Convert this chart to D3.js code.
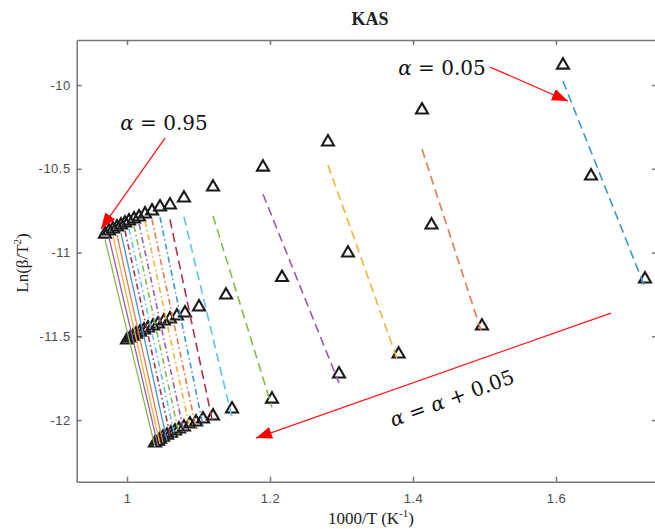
<!DOCTYPE html>
<html lang="en">
<head>
  <meta charset="utf-8">
  <title>KAS</title>
  <script src="https://cdnjs.cloudflare.com/ajax/libs/d3/7.8.5/d3.min.js"></script>
  <style>
    body { margin: 0; background: #fff; }
    .tick text { font-family: "Liberation Sans", Arial, sans-serif; font-size: 13px; fill: #4d4d4d; letter-spacing: 0.5px; }
    .axis path, .axis line { stroke: #777; stroke-width: 1.5; }
    .ttl { font-family: "Liberation Serif", "Times New Roman", serif; fill: #222; }
    .note { font-family: "DejaVu Serif", serif; font-size: 20px; fill: #111; }
  </style>
</head>
<body>
<svg id="chart"></svg>
<script>
// conversion levels
var alphas = [0.05, 0.10, 0.15, 0.20, 0.25, 0.30, 0.35, 0.40, 0.45, 0.50,
              0.55, 0.60, 0.65, 0.70, 0.75, 0.80, 0.85, 0.90, 0.95];

// 1000/T and ln(beta/T^2) for the three heating rates (top, middle, bottom rows)
var xTop = [1.6098, 1.4126, 1.2811, 1.1902, 1.1203, 1.0797, 1.0601, 1.0462, 1.0350, 1.0252,
            1.0168, 1.0098, 1.0028, 0.9972, 0.9916, 0.9860, 0.9804, 0.9748, 0.9692];
var yTop = [-9.881, -10.149, -10.340, -10.490, -10.609, -10.675, -10.716, -10.728, -10.752, -10.770,
            -10.788, -10.800, -10.812, -10.824, -10.836, -10.848, -10.860, -10.872, -10.890];
var xMid = [1.6490, 1.4259, 1.3091, 1.2168, 1.1385, 1.1007, 1.0811, 1.0699, 1.0601, 1.0517,
            1.0434, 1.0364, 1.0294, 1.0238, 1.0182, 1.0126, 1.0084, 1.0042, 1.0000];
var yMid = [-10.543, -10.836, -11.003, -11.149, -11.254, -11.325, -11.361, -11.379, -11.397, -11.409,
            -11.427, -11.439, -11.451, -11.463, -11.475, -11.487, -11.499, -11.510, -11.522];
var xBot = [1.7245, 1.4965, 1.3799, 1.2965, 1.2028, 1.1469, 1.1203, 1.1063, 1.0965, 1.0881,
            1.0797, 1.0727, 1.0671, 1.0615, 1.0559, 1.0503, 1.0462, 1.0434, 1.0392];
var yBot = [-11.158, -11.439, -11.606, -11.725, -11.875, -11.934, -11.976, -11.994, -12.012, -12.024,
            -12.042, -12.054, -12.066, -12.078, -12.090, -12.102, -12.114, -12.126, -12.137];

var xTicks = [1, 1.2, 1.4, 1.6];
var yTicks = [-12, -11.5, -11, -10.5, -10];

var palette = ["#3d97d6", "#e27a52", "#efb53a", "#9a5bb0", "#86bb4a", "#5cc4ef", "#b0304a"];

var w = 655, h = 529;
var padL = 76.7, padR = 657, padT = 40, padB = 481.7;

var svg = d3.select("#chart").attr("width", w).attr("height", h);

var xScale = d3.scaleLinear().domain([0.92965, 1.7413]).range([padL, padR]);
var yScale = d3.scaleLinear().domain([-12.368, -9.731]).range([padB, padT]);

// axes (ticks pointing inward like matlab)
svg.append("g").attr("class", "axis")
  .attr("transform", "translate(0," + padB + ")")
  .call(d3.axisBottom(xScale).tickValues(xTicks).tickSizeInner(-5).tickSizeOuter(0).tickPadding(12)
    .tickFormat(function(d) { return String(d); }));
svg.append("g").attr("class", "axis")
  .attr("transform", "translate(0," + padT + ")")
  .call(d3.axisTop(xScale).tickValues(xTicks).tickSizeInner(-5).tickSizeOuter(0).tickFormat(""));
svg.append("g").attr("class", "axis")
  .attr("transform", "translate(" + padL + ",0)")
  .call(d3.axisLeft(yScale).tickValues(yTicks).tickSizeInner(-5).tickSizeOuter(0).tickPadding(6)
    .tickFormat(function(d) { return String(d); }));
svg.append("g").attr("class", "axis")
  .attr("transform", "translate(" + padR + ",0)")
  .call(d3.axisRight(yScale).tickValues(yTicks).tickSizeInner(-5).tickSizeOuter(0).tickFormat(""));

// markers
var pts = [];
alphas.forEach(function(a, i) {
  pts.push([xTop[i], yTop[i]], [xMid[i], yMid[i]], [xBot[i], yBot[i]]);
});
svg.append("g").selectAll("path").data(pts).enter().append("path")
  .attr("d", d3.symbol().type(d3.symbolTriangle).size(62))
  .attr("transform", function(d) { return "translate(" + xScale(d[0]) + "," + yScale(d[1]) + ")"; })
  .attr("fill", "none")
  .attr("stroke", "#1a1a1a")
  .attr("stroke-width", 2.1);

// least squares line per alpha, drawn over the x range of its points
function fit(i) {
  var xs = [xTop[i], xMid[i], xBot[i]], ys = [yTop[i], yMid[i], yBot[i]];
  var mx = d3.mean(xs), my = d3.mean(ys), sxy = 0, sxx = 0;
  for (var k = 0; k < 3; k++) { sxy += (xs[k] - mx) * (ys[k] - my); sxx += (xs[k] - mx) * (xs[k] - mx); }
  var b = sxy / sxx;
  var x0 = d3.min(xs), x1 = d3.max(xs);
  return [[x0, my + b * (x0 - mx)], [x1, my + b * (x1 - mx)]];
}
var line = d3.line().x(function(d) { return xScale(d[0]); }).y(function(d) { return yScale(d[1]); });

svg.append("g").selectAll("path").data(alphas).enter().append("path")
  .attr("d", function(d, i) { return line(fit(i)); })
  .attr("fill", "none")
  .attr("stroke", function(d, i) { return palette[i % 7]; })
  .attr("stroke-width", function(d, i) { return i < 14 ? 1.6 : 1.3; })
  .attr("stroke-dasharray", function(d, i) {
    if (i < 7) return "9,5";
    if (i < 14) return "6,3,1.5,3";
    return null;
  });

// titles
svg.append("text").attr("class", "ttl")
  .attr("x", 370).attr("y", 25)
  .attr("text-anchor", "middle")
  .attr("font-weight", "bold")
  .style("font-size", "18px")
  .text("KAS");

var xt = svg.append("text").attr("class", "ttl")
  .attr("x", 371).attr("y", 524)
  .attr("text-anchor", "middle")
  .style("font-size", "17px")
  .text("1000/T (K");
xt.append("tspan").attr("dy", -7).style("font-size", "11px").text("-1");
xt.append("tspan").attr("dy", 7).text(")");

var yt = svg.append("text").attr("class", "ttl")
  .attr("transform", "translate(28,263) rotate(-90)")
  .attr("text-anchor", "middle")
  .style("font-size", "17px")
  .text("Ln(\u03b2/T");
yt.append("tspan").attr("dy", -7).style("font-size", "11px").text("2");
yt.append("tspan").attr("dy", 7).text(")");

// annotations
var arrows = [
  [[1.5077, -9.8925], [1.6168, -10.0955]],
  [[1.0531, -10.3164], [0.9636, -10.8597]],
  [[1.6769, -11.3612], [1.1804, -12.1075]]
];
var notes = [
  { x: 1.4406, y: -9.8985, rot: 0, parts: ["\u03b1", " = 0.05"] },
  { x: 1.0517, y: -10.227, rot: 0, parts: ["\u03b1", " = 0.95"] },
  { x: 1.4545, y: -11.8687, rot: -20, parts: ["\u03b1", " = ", "\u03b1", " + 0.05"] }
];

svg.append("defs").append("marker")
  .attr("id", "head")
  .attr("markerUnits", "userSpaceOnUse")
  .attr("markerWidth", 18).attr("markerHeight", 14)
  .attr("refX", 16).attr("refY", 6)
  .attr("orient", "auto")
  .append("path").attr("d", "M0,0 L16,6 L0,12 Z").attr("fill", "#ff0000");

svg.append("g").selectAll("path").data(arrows).enter().append("path")
  .attr("d", line)
  .attr("stroke", "#ff1a1a")
  .attr("stroke-width", 1.3)
  .attr("fill", "none")
  .attr("marker-end", "url(#head)");

notes.forEach(function(n) {
  var t = svg.append("text").attr("class", "note")
    .attr("text-anchor", "middle")
    .attr("dominant-baseline", "central")
    .attr("transform", "translate(" + xScale(n.x) + "," + yScale(n.y) + ") rotate(" + n.rot + ")");
  n.parts.forEach(function(p) {
    var s = t.append("tspan").text(p).attr("xml:space", "preserve");
    if (p === "\u03b1") s.style("font-style", "italic");
  });
});
</script>
</body>
</html>
